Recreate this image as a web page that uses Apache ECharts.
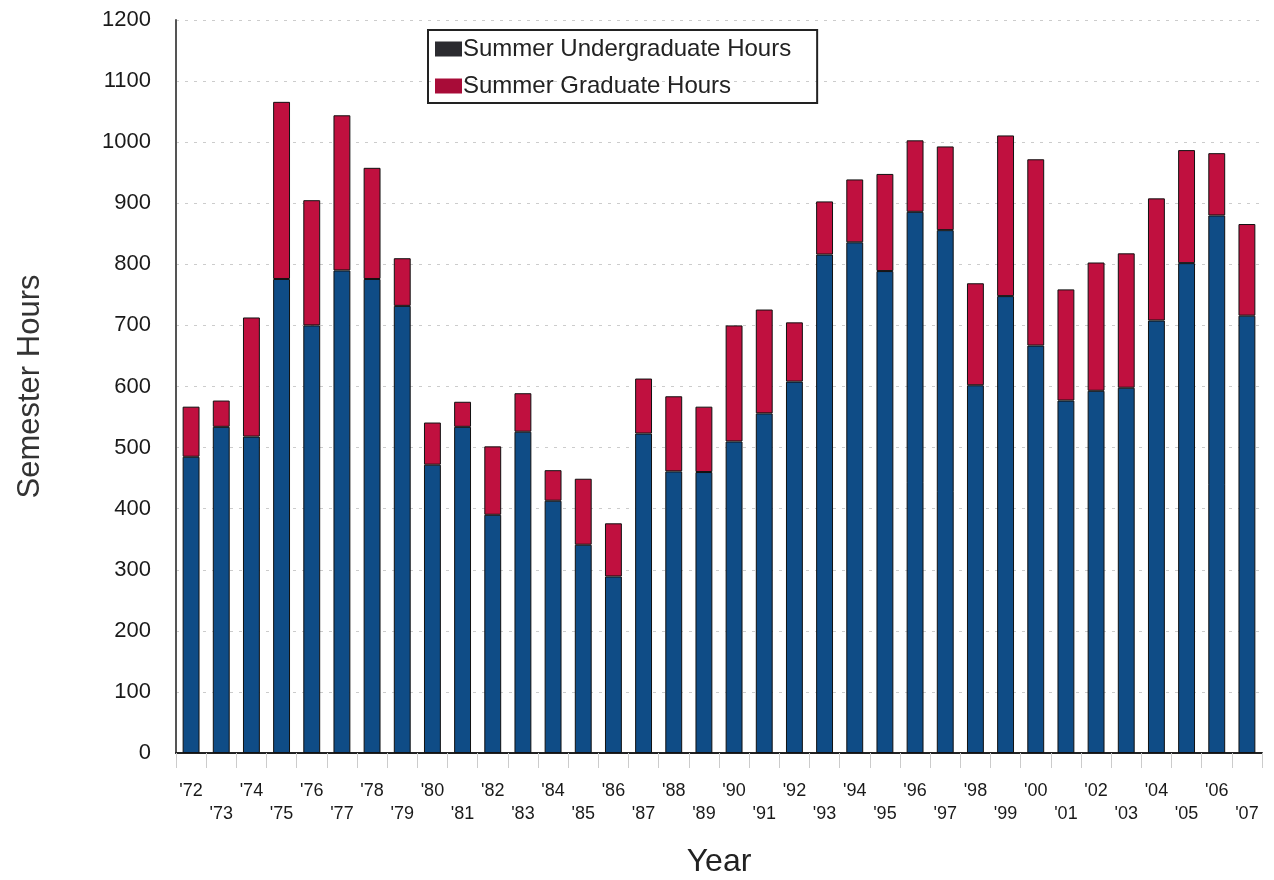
<!DOCTYPE html>
<html>
<head>
<meta charset="utf-8">
<script src="https://cdn.jsdelivr.net/npm/echarts@6/dist/echarts.min.js"></script>
<style>
  html, body { margin: 0; padding: 0; background: #fff; }
  #chart { width: 1274px; height: 880px; }
</style>
</head>
<body>
<div id="chart"></div>
<script>
// years '72 .. '07
const years = ["'72","'73","'74","'75","'76","'77","'78","'79","'80","'81","'82","'83",
  "'84","'85","'86","'87","'88","'89","'90","'91","'92","'93","'94","'95",
  "'96","'97","'98","'99","'00","'01","'02","'03","'04","'05","'06","'07"];

// undergraduate hours (blue part)
const undergrad = [485, 534, 518, 776, 700, 790, 776, 732, 472, 534, 390, 526,
  413, 341, 289, 523, 461, 460, 510, 556, 608, 816, 836, 789,
  886, 856, 602, 748, 667, 577, 593, 598, 708, 802, 880, 716];

// graduate hours (red part, stacked on top)
const graduate = [82, 43, 195, 290, 205, 254, 182, 78, 69, 41, 112, 63,
  50, 108, 87, 90, 123, 107, 190, 170, 97, 87, 103, 159,
  117, 137, 167, 263, 305, 182, 210, 220, 200, 185, 102, 150];

const yTicks = [0, 100, 200, 300, 400, 500, 600, 700, 800, 900, 1000, 1100, 1200];

const chart = echarts.init(document.getElementById('chart'));

const option = {
  animation: false,
  backgroundColor: '#fff',
  textStyle: { fontFamily: 'Liberation Sans, Arial, sans-serif' },
  grid: { left: 176, right: 12, top: 20, bottom: 127, outerBoundsMode: 'none' },
  legend: {
    orient: 'vertical',
    left: 428,
    top: 30,
    itemWidth: 27,
    itemHeight: 15,
    itemGap: 13,
    padding: [7, 26, 5, 7],
    borderColor: '#222',
    borderWidth: 2,
    textStyle: { fontSize: 24, color: '#222', padding: [0, 0, 0, -4] },
    data: [
      { name: 'Summer Undergraduate Hours', icon: 'rect', itemStyle: { color: '#2b2b30', borderWidth: 0 } },
      { name: 'Summer Graduate Hours', icon: 'rect', itemStyle: { color: '#a80c38', borderWidth: 0 } }
    ]
  },
  xAxis: {
    type: 'category',
    data: years,
    name: 'Year',
    nameLocation: 'middle',
    nameGap: 93,
    nameTextStyle: { fontSize: 32, color: '#222' },
    axisLine: { lineStyle: { color: '#222', width: 2 } },
    axisTick: { show: true, alignWithLabel: false, length: 15, lineStyle: { color: '#ccc' } },
    axisLabel: {
      interval: 0,
      fontSize: 18,
      color: '#1a1a1a',
      margin: 27,
      lineHeight: 23,
      formatter: (v, i) => (i % 2 === 1 ? '\n' + v : v)
    }
  },
  yAxis: {
    type: 'value',
    min: 0,
    max: 1200,
    interval: 100,
    name: 'Semester Hours',
    nameLocation: 'middle',
    nameGap: 130,
    nameTextStyle: { fontSize: 31, color: '#333' },
    axisLine: { show: true, lineStyle: { color: '#555', width: 2 } },
    axisTick: { show: false },
    axisLabel: {
      fontSize: 22,
      color: '#1a1a1a',
      margin: 25,
      formatter: v => (yTicks.indexOf(v) >= 0 ? String(v) : '')
    },
    splitLine: { show: true, lineStyle: { color: '#ccc', type: [3, 6], width: 1 } }
  },
  series: [
    {
      name: 'Summer Undergraduate Hours',
      type: 'bar',
      stack: 'hours',
      barWidth: '56%',
      data: undergrad,
      itemStyle: { color: '#0f4c86', borderColor: '#111', borderWidth: 1 }
    },
    {
      name: 'Summer Graduate Hours',
      type: 'bar',
      stack: 'hours',
      barWidth: '56%',
      data: graduate,
      itemStyle: { color: '#c0103f', borderColor: '#111', borderWidth: 1 }
    }
  ]
};

chart.setOption(option);
</script>
</body>
</html>
